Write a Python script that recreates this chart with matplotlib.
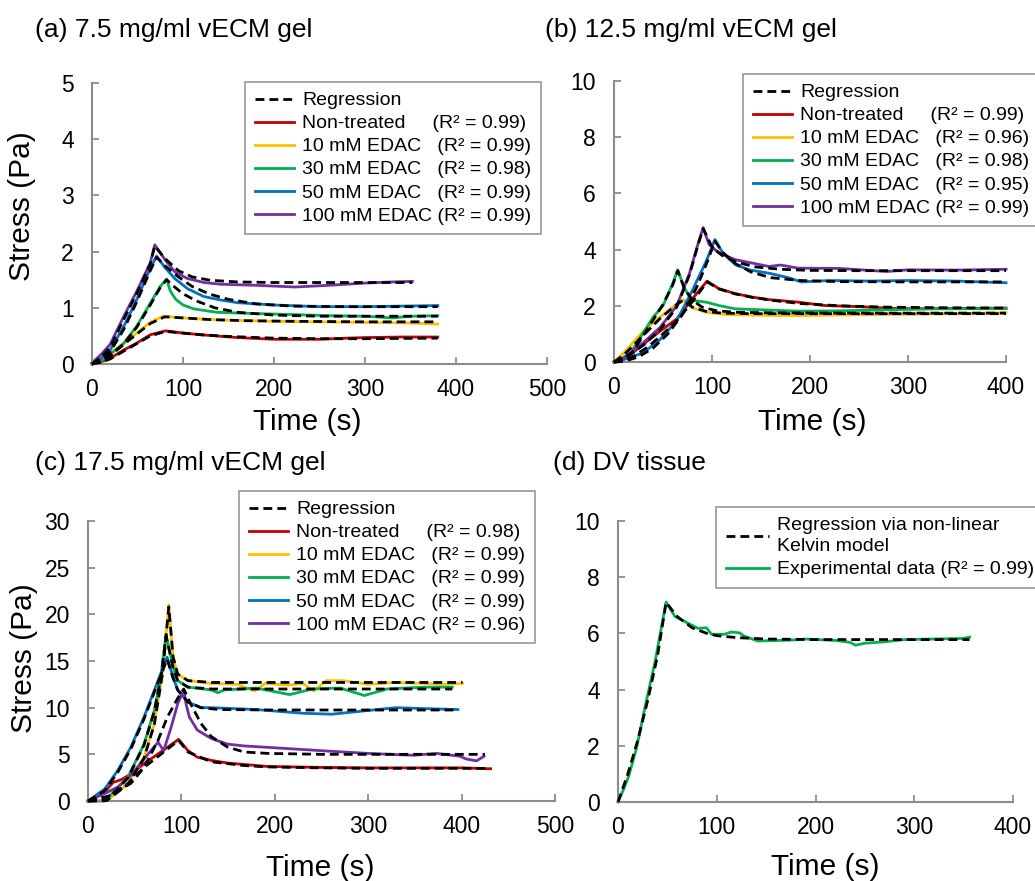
import matplotlib
matplotlib.use("Agg")
import matplotlib.pyplot as plt
from matplotlib.lines import Line2D

plt.rcParams.update({"font.family": ["Liberation Sans", "DejaVu Sans"]})

W, H = 1035, 881

SERIES_COLORS = ["#C00000", "#FFC000", "#00B050", "#0070C0", "#7030A0"]
SERIES_NAMES = ["Non-treated     ", "10 mM EDAC   ", "30 mM EDAC   ", "50 mM EDAC   ", "100 mM EDAC "]

# ---- (a) 7.5 mg/ml vECM gel ----
A_R2 = ["0.99", "0.99", "0.98", "0.99", "0.99"]
A_EXP_T = [
    [0, 10, 20, 35, 49, 64, 81, 100, 120, 160, 200, 250, 280, 300, 340, 380],
    [0, 10, 20, 35, 49, 64, 78, 85, 100, 120, 150, 200, 250, 300, 350, 380],
    [0, 10, 20, 35, 49, 64, 75, 82, 86, 92, 100, 112, 137, 175, 220, 260, 300, 330, 350, 380],
    [0, 5, 20, 35, 49, 64, 71, 80, 91, 105, 123, 141, 160, 200, 250, 300, 340, 380],
    [0, 10, 20, 35, 50, 64, 69, 80, 91, 105, 123, 141, 180, 223, 260, 300, 330, 352],
]
A_EXP_S = [
    [0.0, 0.04, 0.10, 0.25, 0.37, 0.52, 0.59, 0.55, 0.52, 0.47, 0.44, 0.44, 0.46, 0.47, 0.48, 0.48],
    [0.0, 0.08, 0.20, 0.37, 0.55, 0.74, 0.85, 0.84, 0.82, 0.80, 0.78, 0.76, 0.75, 0.74, 0.73, 0.71],
    [0.0, 0.06, 0.17, 0.37, 0.67, 1.08, 1.38, 1.51, 1.30, 1.15, 1.05, 0.98, 0.92, 0.90, 0.88, 0.86, 0.85, 0.82, 0.85, 0.86],
    [0.0, 0.03, 0.25, 0.67, 1.14, 1.70, 1.92, 1.72, 1.52, 1.34, 1.20, 1.14, 1.09, 1.05, 1.02, 1.02, 1.03, 1.04],
    [0.02, 0.17, 0.35, 0.85, 1.32, 1.80, 2.12, 1.86, 1.64, 1.52, 1.45, 1.42, 1.40, 1.37, 1.40, 1.44, 1.46, 1.47],
]
A_REG_T = [
    [0, 10, 20, 35, 49, 64, 81, 100, 120, 150, 200, 250, 300, 380],
    [0, 10, 20, 35, 49, 64, 80, 100, 130, 170, 220, 300, 380],
    [0, 10, 20, 35, 49, 64, 75, 82, 90, 100, 115, 135, 160, 200, 250, 300, 380],
    [0, 10, 20, 35, 49, 64, 71, 80, 95, 110, 130, 150, 180, 220, 280, 380],
    [0, 10, 20, 35, 50, 64, 69, 80, 95, 110, 130, 160, 200, 260, 352],
]
A_REG_S = [
    [0.0, 0.03, 0.09, 0.23, 0.36, 0.50, 0.58, 0.55, 0.52, 0.49, 0.46, 0.45, 0.45, 0.46],
    [0.0, 0.05, 0.16, 0.35, 0.53, 0.72, 0.84, 0.82, 0.79, 0.77, 0.76, 0.75, 0.75],
    [0.0, 0.04, 0.14, 0.36, 0.65, 1.05, 1.36, 1.50, 1.38, 1.25, 1.12, 1.00, 0.92, 0.87, 0.85, 0.85, 0.85],
    [0.0, 0.08, 0.22, 0.62, 1.10, 1.66, 1.90, 1.75, 1.55, 1.38, 1.24, 1.15, 1.07, 1.03, 1.02, 1.02],
    [0.0, 0.12, 0.30, 0.80, 1.28, 1.78, 2.10, 1.88, 1.66, 1.55, 1.49, 1.46, 1.45, 1.45, 1.45],
]

# ---- (b) 12.5 mg/ml vECM gel ----
B_R2 = ["0.99", "0.96", "0.98", "0.95", "0.99"]
B_EXP_T = [
    [0, 8, 17, 30, 47, 64, 80, 95, 107, 124, 141, 158, 188, 215, 250, 289, 330, 370, 400],
    [0, 10, 30, 47, 64, 71, 80, 94, 114, 150, 188, 250, 300, 350, 400],
    [0, 5, 17, 30, 40, 50, 60, 65, 72, 80, 94, 107, 124, 148, 188, 230, 280, 330, 400],
    [0, 3, 30, 47, 64, 80, 94, 103, 111, 124, 138, 158, 178, 191, 220, 260, 300, 350, 400],
    [0, 10, 30, 47, 64, 77, 86, 91, 97, 107, 124, 141, 158, 170, 188, 230, 278, 300, 350, 400],
]
B_EXP_S = [
    [0, 0.10, 0.27, 0.63, 1.10, 1.53, 2.25, 2.88, 2.61, 2.43, 2.31, 2.22, 2.13, 2.01, 1.97, 1.90, 1.90, 1.91, 1.92],
    [0, 0.33, 1.10, 1.60, 2.07, 2.22, 1.93, 1.77, 1.69, 1.66, 1.65, 1.68, 1.70, 1.72, 1.75],
    [0, 0.05, 0.33, 1.05, 1.60, 2.00, 2.80, 3.28, 2.61, 2.19, 2.13, 2.01, 1.89, 1.86, 1.81, 1.82, 1.86, 1.89, 1.90],
    [0, 0.0, 0.33, 0.80, 1.47, 2.55, 3.58, 4.36, 3.88, 3.46, 3.28, 3.16, 3.00, 2.85, 2.90, 2.88, 2.90, 2.88, 2.82],
    [0, 0.15, 0.69, 1.23, 2.00, 3.15, 4.24, 4.78, 4.18, 3.88, 3.64, 3.52, 3.40, 3.45, 3.34, 3.33, 3.22, 3.28, 3.27, 3.30],
]
B_REG_T = [
    [0, 10, 20, 35, 50, 65, 80, 95, 107, 124, 141, 160, 190, 230, 280, 340, 400],
    [0, 10, 30, 47, 64, 71, 80, 94, 110, 140, 200, 400],
    [0, 10, 20, 30, 40, 50, 60, 65, 72, 80, 90, 105, 125, 160, 220, 400],
    [0, 10, 25, 40, 55, 70, 85, 95, 103, 111, 124, 140, 160, 190, 230, 300, 400],
    [0, 10, 30, 47, 64, 77, 86, 91, 100, 110, 125, 145, 170, 200, 250, 400],
]
B_REG_S = [
    [0, 0.05, 0.20, 0.55, 1.00, 1.50, 2.15, 2.85, 2.60, 2.42, 2.30, 2.20, 2.08, 2.00, 1.95, 1.93, 1.92],
    [0, 0.25, 0.95, 1.55, 2.05, 2.20, 1.95, 1.80, 1.74, 1.72, 1.72, 1.72],
    [0, 0.10, 0.40, 0.95, 1.50, 2.05, 2.75, 3.25, 2.60, 2.20, 1.95, 1.82, 1.77, 1.75, 1.74, 1.74],
    [0, 0.02, 0.18, 0.50, 1.00, 1.70, 2.70, 3.55, 4.30, 3.90, 3.50, 3.20, 3.00, 2.90, 2.86, 2.85, 2.85],
    [0, 0.10, 0.60, 1.15, 1.95, 3.10, 4.20, 4.75, 4.10, 3.80, 3.55, 3.38, 3.30, 3.26, 3.25, 3.25],
]

# ---- (c) 17.5 mg/ml vECM gel ----
C_R2 = ["0.98", "0.99", "0.99", "0.99", "0.96"]
C_EXP_T = [
    [0, 18, 27, 36, 46, 60, 78, 97, 107, 117, 132, 149, 192, 250, 300, 350, 400, 431],
    [0, 15, 21, 43, 60, 71, 80, 84, 86.5, 91, 96, 107, 132, 160, 178, 190, 215, 230, 242, 255, 273, 300, 330, 360, 380, 401],
    [0, 18, 43, 60, 71, 78, 83.6, 91, 96, 107, 132, 139, 146, 180, 216, 240, 270, 296, 320, 360, 390],
    [0, 18, 32, 46, 60, 75, 84.7, 91, 96, 107, 121, 132, 180, 230, 261, 300, 330, 360, 396],
    [0, 18, 32, 46, 60, 75, 81, 89, 96, 102.5, 105, 108.5, 117, 132, 149, 167, 192, 255, 300, 348, 373, 398, 405, 416, 424],
]
C_EXP_S = [
    [0, 1.0, 2.0, 2.3, 2.9, 4.0, 5.25, 6.6, 5.4, 4.7, 4.35, 4.07, 3.7, 3.6, 3.55, 3.55, 3.55, 3.45],
    [0, 0, 0.07, 1.9, 4.7, 8.3, 14.0, 18.3, 21.0, 15.4, 13.6, 12.9, 12.6, 12.5, 11.8, 12.6, 12.4, 12.6, 11.8, 12.9, 12.9, 12.5, 12.7, 12.6, 12.5, 12.6],
    [0, 0, 2.6, 6.1, 9.7, 13.3, 17.8, 14.4, 12.9, 12.2, 11.9, 11.6, 11.9, 12.1, 11.4, 12.0, 12.1, 11.3, 12.0, 12.2, 12.2],
    [0, 1.3, 3.3, 5.8, 9.0, 12.9, 15.4, 13.3, 11.9, 10.6, 10.0, 10.0, 9.8, 9.4, 9.3, 9.7, 10.0, 9.9, 9.8],
    [0, 0.8, 1.5, 2.75, 4.5, 6.3, 5.4, 7.9, 10.4, 11.9, 10.4, 9.0, 7.6, 6.7, 6.1, 5.9, 5.75, 5.36, 5.1, 4.9, 5.1, 4.8, 4.5, 4.3, 4.8],
]
C_REG_T = [
    [0, 25, 43, 60, 78, 97, 107, 132, 167, 192, 250, 300, 431],
    [0, 20, 43, 60, 71, 80, 86.5, 91, 96, 107, 132, 200, 401],
    [0, 20, 43, 60, 71, 78, 83.6, 91, 96, 107, 132, 200, 390],
    [0, 18, 32, 46, 60, 75, 84.7, 91, 96, 107, 121, 140, 200, 396],
    [0, 20, 46, 60, 75, 85, 96, 102.5, 110, 121, 132, 149, 167, 192, 250, 425],
]
C_REG_S = [
    [0, 0.6, 1.9, 3.6, 5.0, 6.5, 5.25, 4.2, 3.8, 3.65, 3.55, 3.5, 3.5],
    [0, 0.05, 1.8, 4.6, 8.2, 13.8, 20.8, 15.5, 13.6, 12.9, 12.7, 12.7, 12.7],
    [0, 0.05, 2.5, 6.0, 9.6, 13.2, 17.7, 14.3, 12.9, 12.2, 12.0, 12.0, 12.0],
    [0, 1.1, 3.1, 5.6, 8.8, 12.7, 15.2, 13.2, 11.9, 10.6, 10.0, 9.8, 9.75, 9.75],
    [0, 0.4, 1.9, 3.6, 6.5, 9.0, 11.0, 12.0, 10.4, 8.3, 6.9, 5.8, 5.25, 5.1, 5.0, 5.0],
]

# ---- (d) DV tissue ----
D_EXP_T = [0, 5, 10.7, 19, 27.5, 37.6, 48.7, 57.7, 71, 81, 89.6, 94.6, 108, 114.8, 123, 128, 141.6, 175, 190,
           220, 235, 240.5, 250, 270, 290, 320, 350, 356]
D_EXP_S = [0, 0.4, 0.9, 1.95, 3.4, 5.0, 7.12, 6.6, 6.36, 6.18, 6.2, 5.97, 5.97, 6.05, 6.02, 5.9, 5.73, 5.76, 5.8,
           5.75, 5.68, 5.58, 5.65, 5.7, 5.78, 5.8, 5.82, 5.87]
D_REG_T = [0, 10, 20, 30, 40, 48.7, 60, 75, 90, 100, 120, 150, 200, 280, 356]
D_REG_S = [0, 1.0, 2.2, 3.6, 5.2, 7.1, 6.6, 6.2, 6.0, 5.92, 5.85, 5.8, 5.78, 5.78, 5.78]

DASH = (0, (3.2, 1.8))


def px_axes(left, top, right, bottom):
    return [left / W, 1 - bottom / H, (right - left) / W, (bottom - top) / H]


def style_axes(ax, xmax, ymax, ystep, xlab_pos):
    ax.set_xlim(0, xmax)
    ax.set_ylim(0, ymax)
    ax.set_xticks(range(0, xmax + 1, 100))
    yt = [i * ystep for i in range(int(round(ymax / ystep)) + 1)]
    ax.set_yticks(yt)
    ax.set_yticklabels([f"{v:g}" for v in yt])
    for side in ["top", "right"]:
        ax.spines[side].set_visible(False)
    for side in ["left", "bottom"]:
        ax.spines[side].set_color("#8c8c8c")
        ax.spines[side].set_linewidth(1.5)
    ax.tick_params(direction="in", length=5, width=1.3, color="#8c8c8c", labelsize=16.5)
    ax.tick_params(axis="x", pad=10)
    ax.tick_params(axis="y", pad=13)
    ax.set_xlabel("Time (s)", fontsize=21.5)
    ax.xaxis.set_label_coords(*xlab_pos)


def draw_series(ax, exp_t, exp_s, reg_t, reg_s):
    lines = []
    for t, s, c in zip(exp_t, exp_s, SERIES_COLORS):
        (ln,) = ax.plot(t, s, color=c, lw=2.0, solid_joinstyle="round", zorder=2, clip_on=False)
        lines.append(ln)
    for t, s in zip(reg_t, reg_s):
        ax.plot(t, s, color="black", lw=2.0, ls=DASH, zorder=3, clip_on=False)
    return lines


def add_legend(ax, fig, handles, labels, x, y, hlen=2.0):
    leg = ax.legend(handles, labels, loc="upper left", bbox_to_anchor=(x / W, 1 - y / H),
                    bbox_transform=fig.transFigure, fontsize=14, frameon=True, fancybox=False,
                    edgecolor="#7f7f7f", handlelength=hlen, handletextpad=0.45, labelspacing=0.28,
                    borderpad=0.5, borderaxespad=0)
    leg.get_frame().set_linewidth(1.2)
    return leg


fig = plt.figure(figsize=(W / 100, H / 100), dpi=100)
reg_handle = Line2D([], [], color="black", lw=2.0, ls=DASH)

ax_a = fig.add_axes(px_axes(92, 83, 547, 364))
lines = draw_series(ax_a, A_EXP_T, A_EXP_S, A_REG_T, A_REG_S)
style_axes(ax_a, 500, 5, 1, (0.4725, -0.155))
ax_a.set_ylabel("Stress (Pa)", fontsize=21.5)
ax_a.yaxis.set_label_coords(-0.123, 0.562)
add_legend(ax_a, fig, [reg_handle] + lines,
           ["Regression"] + [f"{n}(R² = {r})" for n, r in zip(SERIES_NAMES, A_R2)], 245, 82)

ax_b = fig.add_axes(px_axes(614, 81, 1006, 362))
lines = draw_series(ax_b, B_EXP_T, B_EXP_S, B_REG_T, B_REG_S)
style_axes(ax_b, 400, 10, 2, (0.505, -0.162))
add_legend(ax_b, fig, [reg_handle] + lines,
           ["Regression"] + [f"{n}(R² = {r})" for n, r in zip(SERIES_NAMES, B_R2)], 743, 74)

ax_c = fig.add_axes(px_axes(88, 521, 555, 801))
lines = draw_series(ax_c, C_EXP_T, C_EXP_S, C_REG_T, C_REG_S)
style_axes(ax_c, 500, 30, 5, (0.497, -0.189))
ax_c.set_ylabel("Stress (Pa)", fontsize=21.5)
ax_c.yaxis.set_label_coords(-0.107, 0.511)
add_legend(ax_c, fig, [reg_handle] + lines,
           ["Regression"] + [f"{n}(R² = {r})" for n, r in zip(SERIES_NAMES, C_R2)], 239, 491)

ax_d = fig.add_axes(px_axes(618, 521, 1013, 802))
(exp_d,) = ax_d.plot(D_EXP_T, D_EXP_S, color="#00B050", lw=2.0, zorder=2, clip_on=False)
ax_d.plot(D_REG_T, D_REG_S, color="black", lw=2.0, ls=DASH, zorder=3, clip_on=False)
style_axes(ax_d, 400, 10, 2, (0.524, -0.181))
leg_d = add_legend(ax_d, fig, [reg_handle, exp_d],
                   ["Regression via non-linear\nKelvin model", "Experimental data (R² = 0.99)"], 716, 507, hlen=2.2)
for txt in leg_d.get_texts():
    txt.set_linespacing(1.35)

for label, x, y in [("(a) 7.5 mg/ml vECM gel", 35, 30), ("(b) 12.5 mg/ml vECM gel", 545, 30),
                    ("(c) 17.5 mg/ml vECM gel", 35, 463), ("(d) DV tissue", 553, 463)]:
    fig.text(x / W, 1 - y / H, label, fontsize=19, ha="left", va="center")

fig.savefig("out.png", dpi=100)
